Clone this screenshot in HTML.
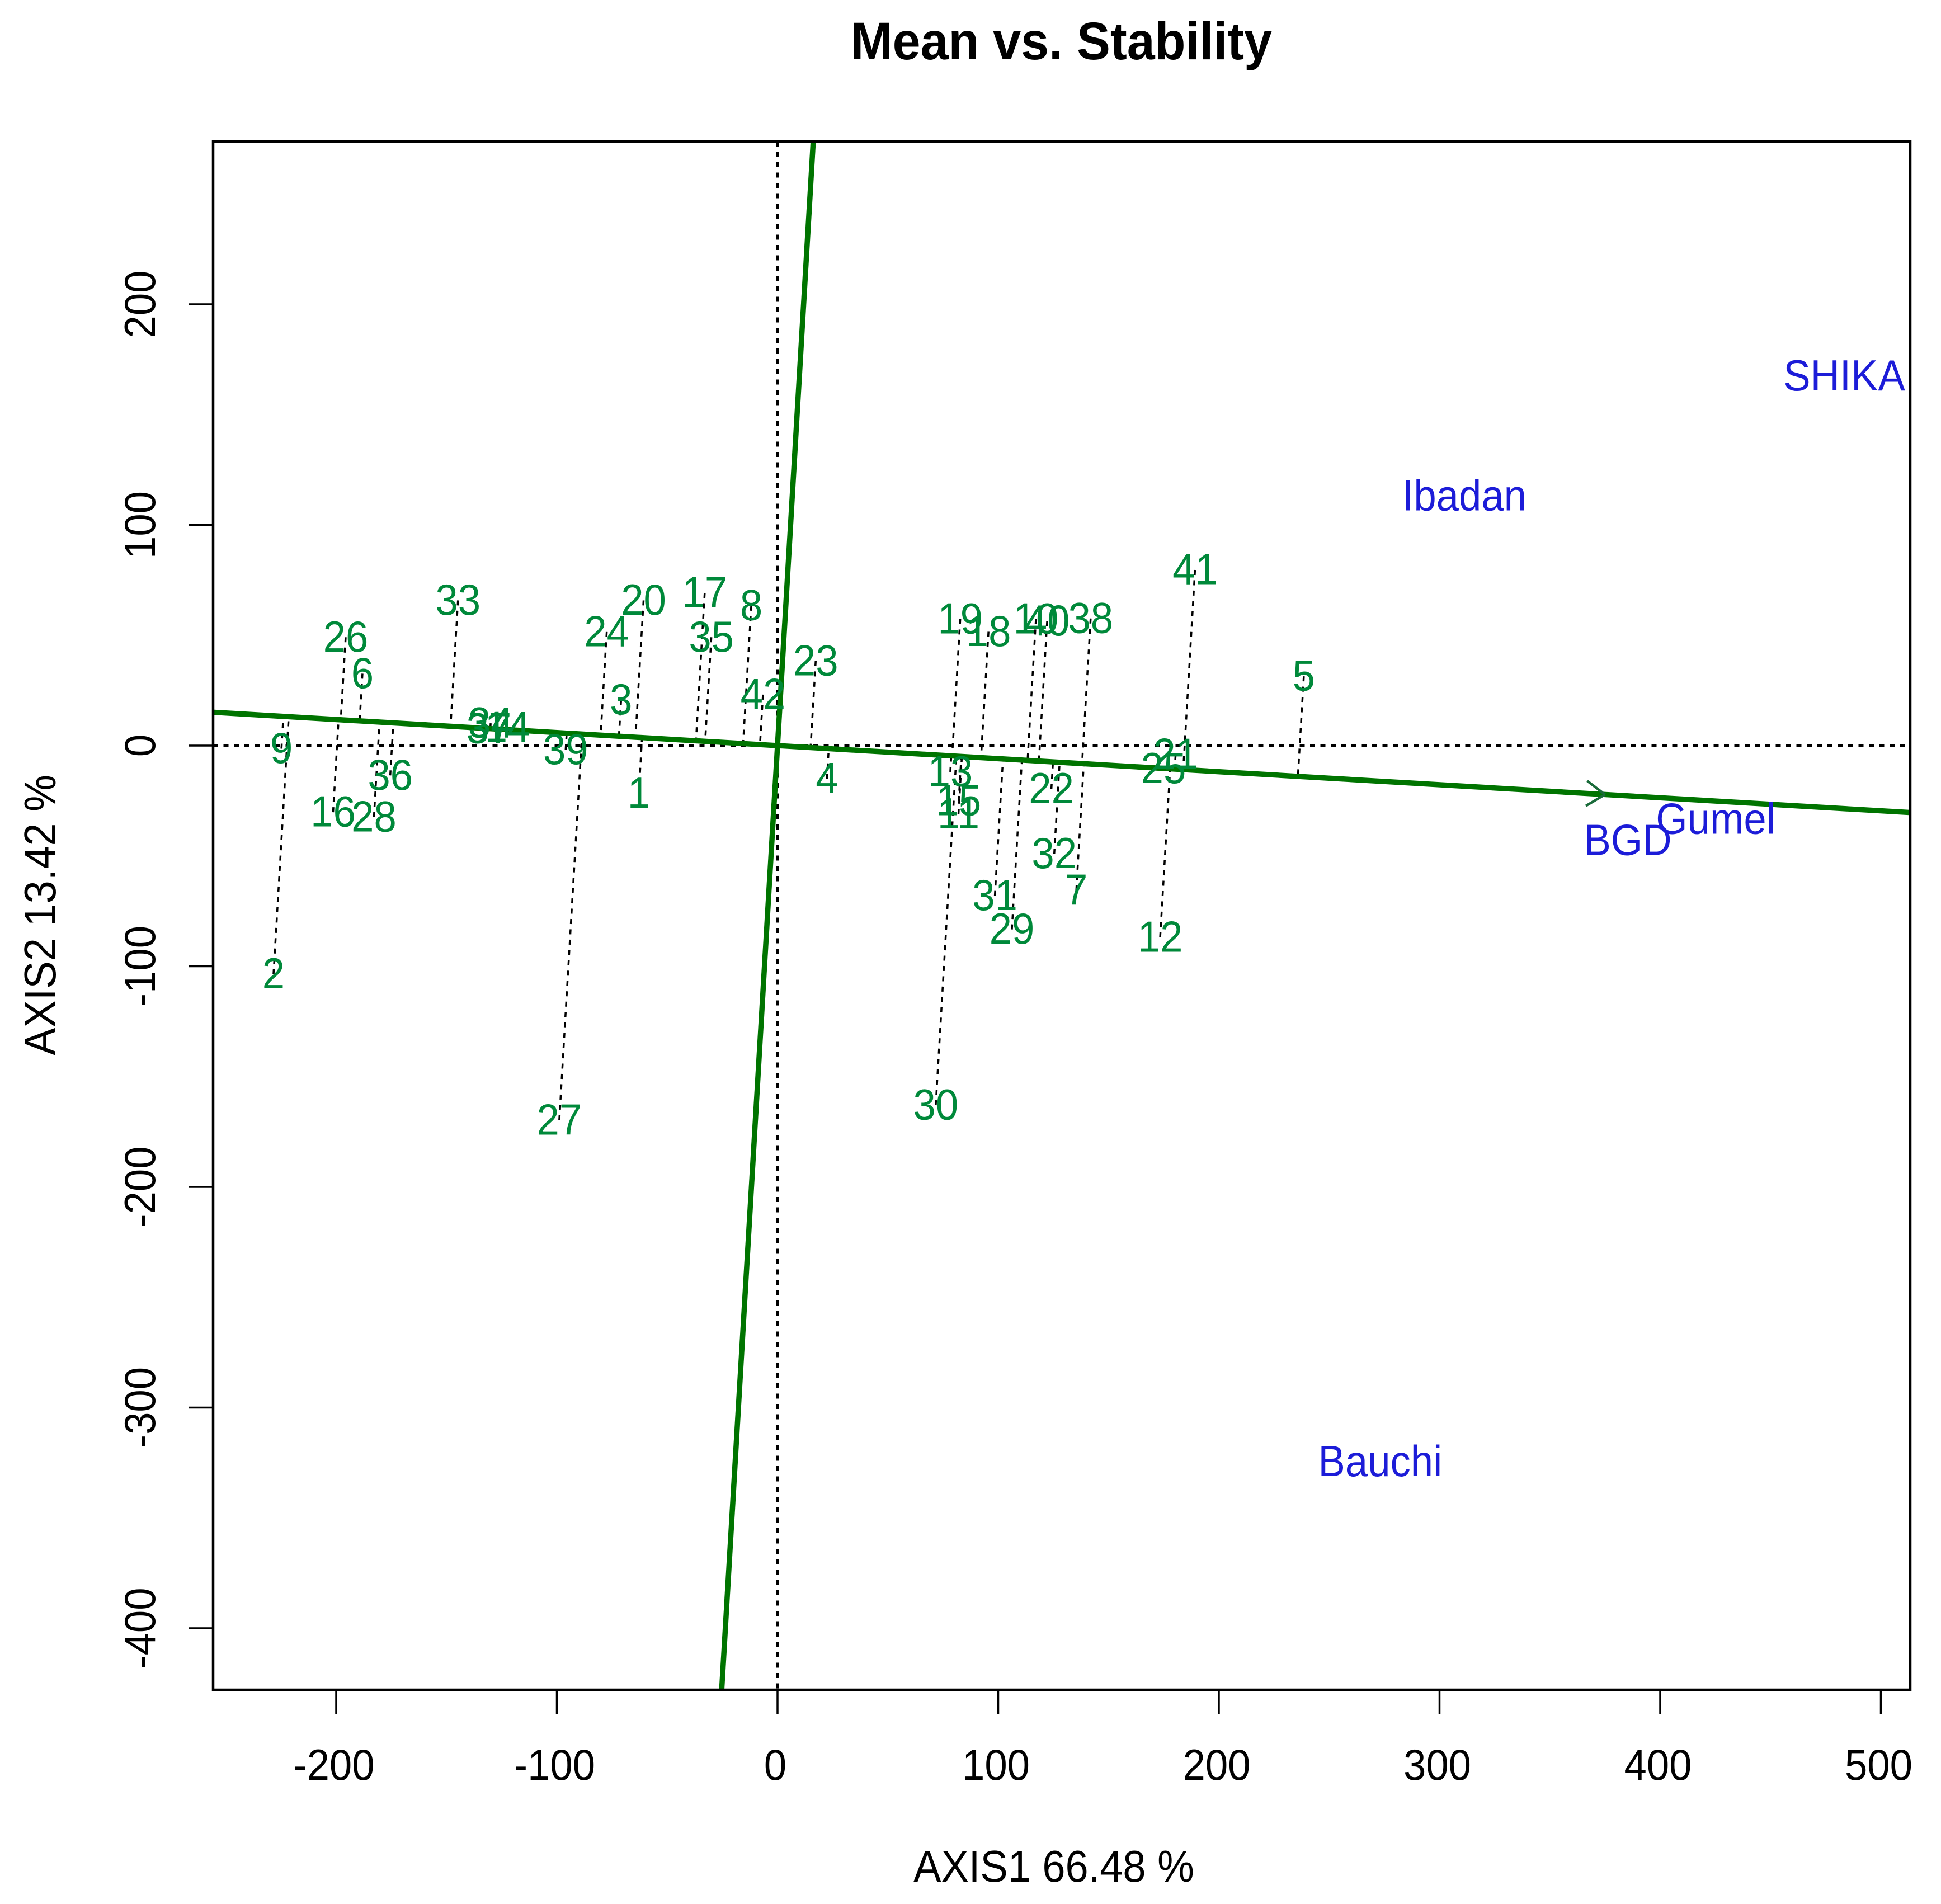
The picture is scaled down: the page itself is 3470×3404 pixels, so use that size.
<!DOCTYPE html>
<html lang="en">
<head>
<meta charset="utf-8">
<title>Mean vs. Stability</title>
<style>
  html, body { margin: 0; padding: 0; background: #fff; width: 3470px; height: 3404px; overflow: hidden; }
  svg { display: block; }
  text { font-family: "Liberation Sans", Arial, sans-serif; }
</style>
</head>
<body>
<svg id="chart" xmlns="http://www.w3.org/2000/svg" width="3470" height="3404" viewBox="0 0 3470 3404">
  <rect x="0" y="0" width="3470" height="3404" fill="#ffffff"/>
  <defs><clipPath id="plot-clip"><rect x="381" y="253" width="3034" height="2768"/></clipPath></defs>
  <text transform="translate(1897.5,106) scale(0.945,1)" text-anchor="middle" font-size="95" font-weight="700" fill="#000">Mean vs. Stability</text>
  <text transform="translate(1884,3364) scale(0.925,1)" text-anchor="middle" font-size="80" fill="#000">AXIS1 66.48 %</text>
  <text transform="translate(99,1636) rotate(-90) scale(0.925,1)" text-anchor="middle" font-size="80" fill="#000">AXIS2 13.42 %</text>
  <g id="ref-lines" clip-path="url(#plot-clip)"></g>
  <g id="projections" clip-path="url(#plot-clip)"></g>
  <g id="green-axes" clip-path="url(#plot-clip)"></g>
  <g id="genotypes"></g>
  <g id="environments"></g>
  <g id="x-axis"></g>
  <g id="y-axis"></g>
  <rect x="381" y="253" width="3034" height="2768" fill="none" stroke="#000" stroke-width="4.5"/>
</svg>
<script>
const xTicks = [-200, -100, 0, 100, 200, 300, 400, 500];
const yTicks = [200, 100, 0, -100, -200, -300, -400];
const genotypeLabels = ['1','2','3','4','5','6','7','8','9','10','11','12','13','14','15','16','17','18','19','20','21','22','23','24','25','26','27','28','29','30','31','32','33','34','35','36','37','38','39','40','41','42'];
const genotypeX = [-62.9,-228.4,-70.9,22.4,238.5,-188.1,135.4,-11.9,-224.8,117.1,82.0,173.4,78.3,-122.4,82.1,-201.4,-33.0,95.6,82.8,-60.7,180.4,124.1,17.3,-77.4,174.9,-195.7,-98.9,-182.9,106.2,71.7,98.5,125.4,-144.8,-130.0,-30.0,-175.5,-130.8,141.9,-96.0,122.2,189.2,-6.6];
const genotypeY = [-21.7,-103.6,20.6,-15.0,31.4,32.6,-65.6,63.4,-1.4,57.3,-31.0,-86.9,-11.9,8.1,-25.1,-30.2,69.2,51.6,57.3,65.8,-4.1,-19.7,38.3,51.5,-10.5,49.1,-169.8,-32.4,-83.3,-163.0,-68.1,-49.0,65.8,10.1,49.1,-13.5,7.6,57.6,-1.9,56.4,79.6,23.1];
const environmentLabels = ['SHIKA','Ibadan','Bauchi','BGD','Gumel'];
const environmentX = [483.4,311.3,273.1,385.3,425.1];
const environmentY = [167.4,113.0,-324.6,-43.1,-33.5];
const meanAxisSlope = [-0.0591];
const arrowTipX = [375];

const NS = 'http://www.w3.org/2000/svg';
const plot = { left: 381, right: 3415, top: 253, bottom: 3021 };
const unit = 3.945;
function xScale(v) { return 1390 + v * unit; }
function yScale(v) { return 1333 - v * unit; }
function make(tag, attrs, parent) {
  const el = document.createElementNS(NS, tag);
  for (const k in attrs) el.setAttribute(k, attrs[k]);
  parent.appendChild(el);
  return el;
}
const slope = meanAxisSlope[0];
const GREEN = '#007400';
const DOT = '9 9.5';

// x axis
const xAxis = document.getElementById('x-axis');
xTicks.forEach(function (t) {
  const px = xScale(t);
  const tick = make('line', { x1: px, x2: px, y1: plot.bottom, y2: 3065, stroke: '#000', 'stroke-width': 3.5 }, xAxis);
  
  
  const lab = make('text', { transform: 'translate(' + (px - 4) + ',3182) scale(0.93,1)', 'text-anchor': 'middle', 'font-size': 78, fill: '#000' }, xAxis);
  
  
  lab.textContent = String(t);
});

// y axis
const yAxis = document.getElementById('y-axis');
yTicks.forEach(function (t) {
  const py = yScale(t);
  const tick = make('line', { x1: 338, x2: plot.left, y1: py, y2: py, stroke: '#000', 'stroke-width': 3.5 }, yAxis);
  
  
  const lab = make('text', { transform: 'translate(277,' + py + ') rotate(-90) scale(0.93,1)', 'text-anchor': 'middle', 'font-size': 78, fill: '#000' }, yAxis);
  
  
  lab.textContent = String(t);
});

// dotted zero lines
const refLines = document.getElementById('ref-lines');
const hZero = make('line', { x1: plot.left, x2: plot.right, y1: yScale(0), y2: yScale(0), stroke: '#000', 'stroke-width': 4, 'stroke-dasharray': DOT }, refLines);


const vZero = make('line', { x1: xScale(0), x2: xScale(0), y1: plot.top, y2: plot.bottom, stroke: '#000', 'stroke-width': 4, 'stroke-dasharray': DOT }, refLines);



// projections of genotypes onto the mean axis
const projections = document.getElementById('projections');
genotypeLabels.forEach(function (name, i) {
  const gx = genotypeX[i], gy = genotypeY[i];
  const fx = (gx + slope * gy) / (1 + slope * slope);
  const fy = slope * fx;
  const seg = make('line', { x1: xScale(gx), y1: yScale(gy), x2: xScale(fx), y2: yScale(fy), stroke: '#000', 'stroke-width': 3.5, 'stroke-dasharray': DOT }, projections);
  
  
});

// green mean / stability axes
const greenAxes = document.getElementById('green-axes');
const minX = -300, maxX = 600, minY = -500, maxY = 300;
const meanAxis = make('line', { x1: xScale(minX), y1: yScale(slope * minX), x2: xScale(maxX), y2: yScale(slope * maxX), stroke: GREEN, 'stroke-width': 9.5 }, greenAxes);


const stabAxis = make('line', { x1: xScale(-slope * minY), y1: yScale(minY), x2: xScale(-slope * maxY), y2: yScale(maxY), stroke: GREEN, 'stroke-width': 9.5 }, greenAxes);



// arrowhead on the mean axis
const tipX = xScale(arrowTipX[0]);
const tipY = yScale(slope * arrowTipX[0]);
const shaftAngle = Math.atan2(tipY - yScale(0), tipX - xScale(0));
[-1, 1].forEach(function (side) {
  const a = shaftAngle + Math.PI + side * 34 * Math.PI / 180;
  const barb = make('line', { x1: tipX, y1: tipY, x2: tipX + 40 * Math.cos(a), y2: tipY + 40 * Math.sin(a), stroke: '#1a6b3a', 'stroke-width': 4.5 }, greenAxes);
  
  
});

// genotype labels
const genotypes = document.getElementById('genotypes');
genotypeLabels.forEach(function (name, i) {
  const lab = make('text', { transform: 'translate(' + xScale(genotypeX[i]) + ',' + (yScale(genotypeY[i]) + 25.5) + ') scale(0.93,1)', 'text-anchor': 'middle', 'font-size': 78, fill: '#00893a' }, genotypes);
  
  
  lab.textContent = name;
});

// environment labels
const environments = document.getElementById('environments');
environmentLabels.forEach(function (name, i) {
  const lab = make('text', { transform: 'translate(' + xScale(environmentX[i]) + ',' + (yScale(environmentY[i]) + 25.5) + ') scale(0.93,1)', 'text-anchor': 'middle', 'font-size': 78, fill: '#1c1cd8' }, environments);
  
  
  lab.textContent = name;
});
</script>
</body>
</html>
